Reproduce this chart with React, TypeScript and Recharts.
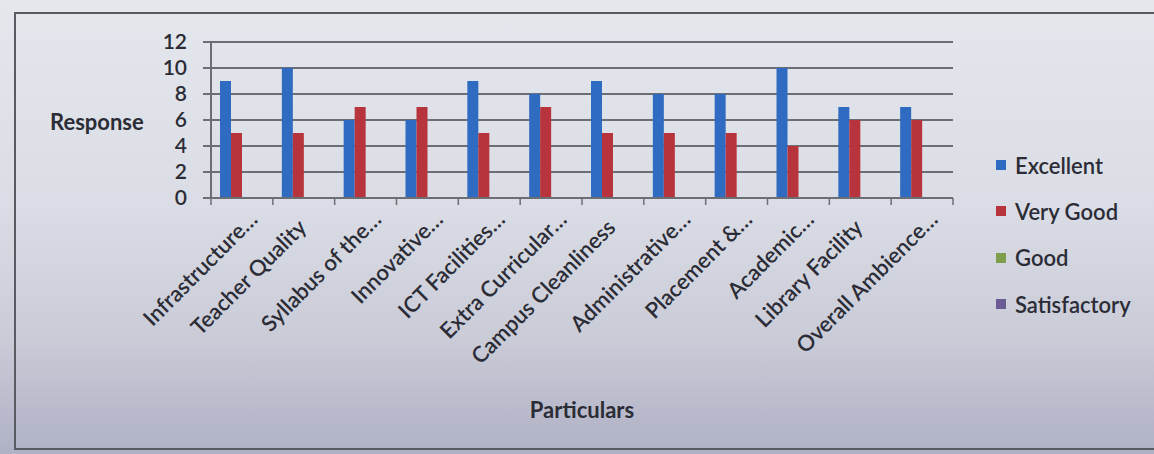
import React from 'react';
import { BarChart, Bar, XAxis, YAxis, CartesianGrid, Legend } from 'recharts';

const categories = [
  'Infrastructure…',
  'Teacher Quality',
  'Syllabus of the…',
  'Innovative…',
  'ICT Facilities…',
  'Extra Curricular…',
  'Campus Cleanliness',
  'Administrative…',
  'Placement &…',
  'Academic…',
  'Library Facility',
  'Overall Ambience…',
];
const excellent = [9, 10, 6, 6, 9, 8, 9, 8, 8, 10, 7, 7];
const veryGood = [5, 5, 7, 7, 5, 7, 5, 5, 5, 4, 6, 6];
const good = [0, 0, 0, 0, 0, 0, 0, 0, 0, 0, 0, 0];
const satisfactory = [0, 0, 0, 0, 0, 0, 0, 0, 0, 0, 0, 0];
const yTicks = [0, 2, 4, 6, 8, 10, 12];

const seriesNames = ['Excellent', 'Very Good', 'Good', 'Satisfactory'];
const seriesColors = ['#2f6bc1', '#b8343d', '#7f9e4c', '#6b5b95'];

const data = categories.map((c, i) => ({
  name: c,
  Excellent: excellent[i],
  'Very Good': veryGood[i],
  Good: good[i],
  Satisfactory: satisfactory[i],
}));

const W = 1154;
const H = 454;
const PLOT_LEFT = 211;
const PLOT_RIGHT = 953;
const PLOT_TOP = 42;
const PLOT_BOTTOM = 198;
const BAND = (PLOT_RIGHT - PLOT_LEFT) / categories.length;
const FONT = 'Lato, "Open Sans", sans-serif';
const TEXT = '#2b2c36';
const GRID = '#6c6e76';

const XTick = (props: any) => {
  const { x, y, payload, index } = props;
  const label: string = payload.value;
  const ell = label.endsWith('…');
  const ex = ell ? x + 17 : x + 4;
  const ey = ell ? y + 23 : y + 31;
  return (
    <g>
      <line x1={x - BAND / 2} y1={y} x2={x - BAND / 2} y2={y + 7} stroke={GRID} strokeWidth={1.5} />
      {index === categories.length - 1 && (
        <line x1={x + BAND / 2} y1={y} x2={x + BAND / 2} y2={y + 7} stroke={GRID} strokeWidth={1.5} />
      )}
      <text
        transform={`translate(${ex},${ey}) rotate(-45)`}
        textAnchor="end"
        fontFamily={FONT}
        fontSize={22}
        fontWeight={600}
        fill={TEXT}
      >
        {label}
      </text>
    </g>
  );
};

const LegendContent = () => (
  <div style={{ fontFamily: FONT }}>
    {seriesNames.map((s, i) => (
      <div
        key={s}
        style={{ height: 46.3, display: 'flex', alignItems: 'center', color: TEXT, fontSize: 22, fontWeight: 600, whiteSpace: 'nowrap' }}
      >
        <span style={{ display: 'inline-block', width: 10, height: 10, background: seriesColors[i], marginRight: 9 }} />
        {s}
      </div>
    ))}
  </div>
);

export default function App() {
  return (
    <div style={{ position: 'absolute', left: 0, top: 0, width: W, height: H, overflow: 'hidden',
      background: 'linear-gradient(180deg, #e4e7ec 0%, #dadde5 45%, #c9cbd7 75%, #afb1c5 100%)' }}>
      <div style={{ position: 'absolute', left: 14, top: 12, width: W, height: 438, border: '2px solid #595b63', boxSizing: 'border-box' }} />
      <div style={{ position: 'absolute', left: 0, top: 0 }}>
        <BarChart
          width={W}
          height={H}
          data={data}
          margin={{ top: PLOT_TOP, right: W - PLOT_RIGHT, bottom: 0, left: 0 }}
          barGap={0}
          barSize={11}
        >
          <CartesianGrid horizontal vertical={false} stroke={GRID} strokeWidth={2} />
          <XAxis
            dataKey="name"
            interval={0}
            height={H - PLOT_BOTTOM}
            tickSize={0}
            tickMargin={0}
            tick={<XTick />}
            axisLine={{ stroke: GRID, strokeWidth: 2 }}
            label={{ value: 'Particulars', position: 'insideBottom', offset: 36, fontFamily: FONT, fontSize: 22, fontWeight: 700, fill: TEXT }}
          />
          <YAxis
            width={PLOT_LEFT}
            domain={[0, 12]}
            ticks={yTicks}
            interval={0}
            tickSize={8}
            tickMargin={16}
            tick={{ fontFamily: FONT, fontSize: 21, fontWeight: 600, fill: TEXT }}
            tickLine={{ stroke: GRID, strokeWidth: 2 }}
            axisLine={{ stroke: GRID, strokeWidth: 2 }}
            label={{ value: 'Response', position: 'insideLeft', offset: 50, fontFamily: FONT, fontSize: 22, fontWeight: 700, fill: TEXT, dy: 2 }}
          />
          <Legend
            layout="vertical"
            align="center"
            verticalAlign="middle"
            content={<LegendContent />}
            wrapperStyle={{ left: 996, top: 142, width: 158 }}
          />
          {seriesNames.map((s, i) => (
            <Bar key={s} dataKey={s} fill={seriesColors[i]} isAnimationActive={false} />
          ))}
        </BarChart>
      </div>
    </div>
  );
}
